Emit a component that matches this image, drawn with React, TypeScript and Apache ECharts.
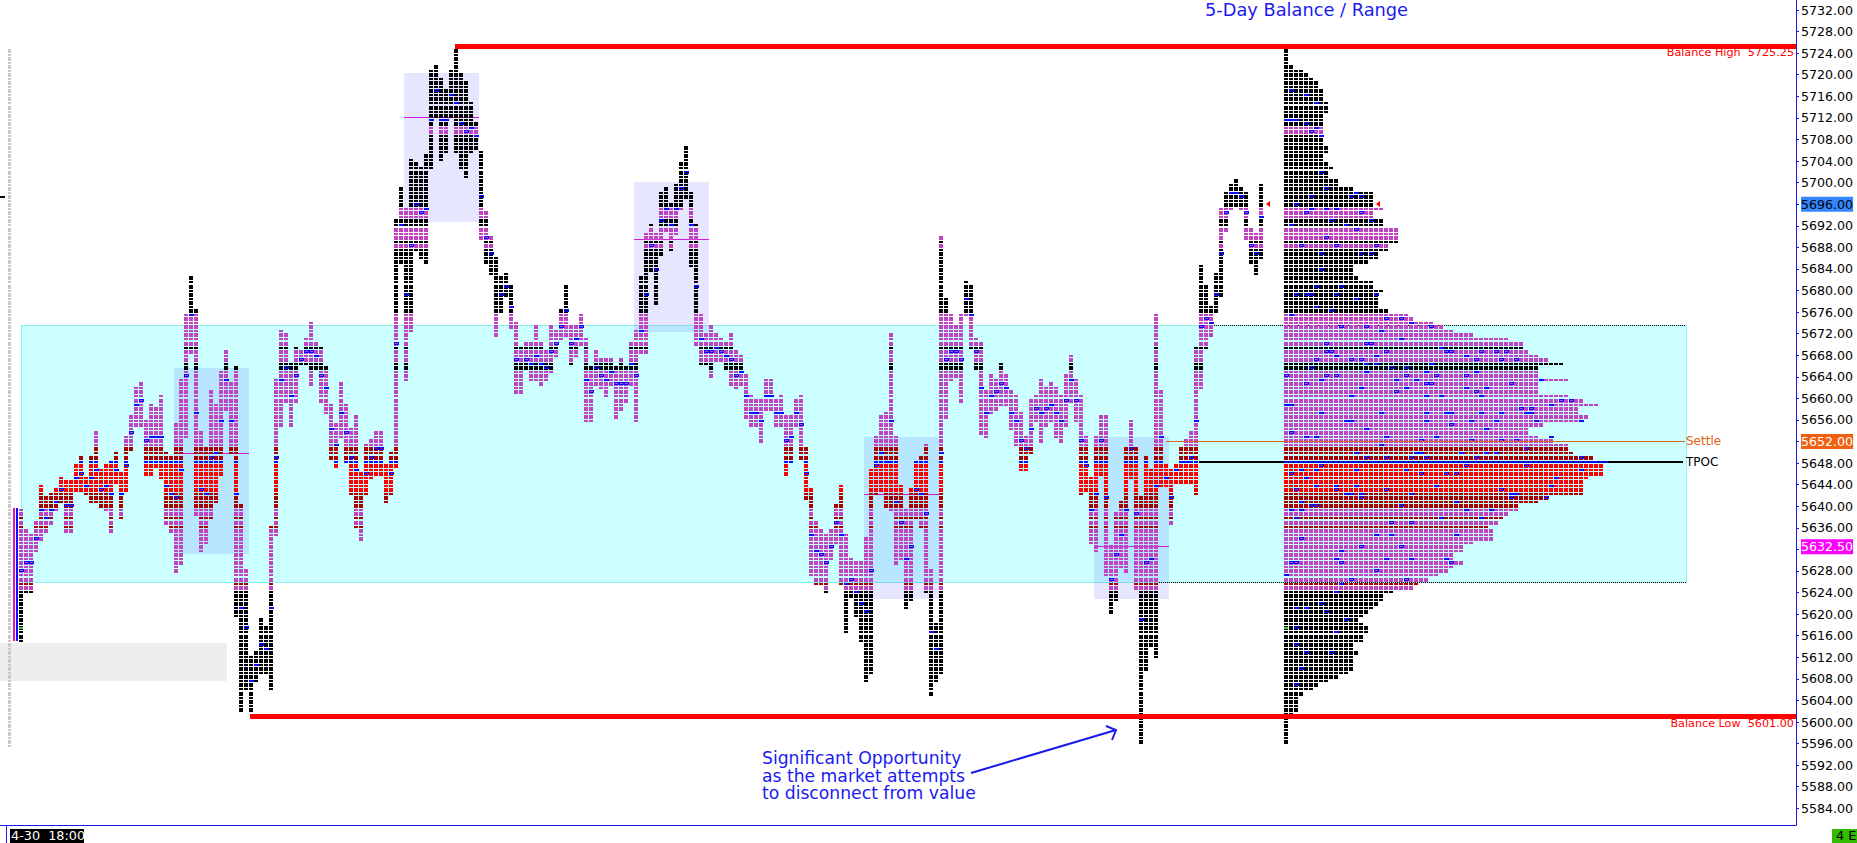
import React, { useEffect, useRef } from "react";
import * as echarts from "echarts";

// ---------- Price axis ----------
const AXIS_MIN = 5580.906;
const AXIS_MAX = 5733.854;
const tickValues = [5584,5588,5592,5596,5600,5604,5608,5612,5616,5620,5624,5628,5632,5636,5640,5644,5648,5652,5656,5660,5664,5668,5672,5676,5680,5684,5688,5692,5696,5700,5704,5708,5712,5716,5720,5724,5728,5732];
const labelValues = [5584,5588,5592,5596,5600,5604,5608,5612,5616,5620,5624,5628,5632.5,5636,5640,5644,5648,5652,5656,5660,5664,5668,5672,5676,5680,5684,5688,5692,5696,5700,5704,5708,5712,5716,5720,5724,5728,5732];

// ---------- Market profile columns (index = period column) ----------
const tpoHigh = [
5639.75,5635.5,5635,5637,5644.25,5642.25,5642.75,5643.25,5645.75,5645,
5645,5648.25,5649.25,5645.5,5649.25,5654,5647,5648.25,5649,5650.5,
5646.5,5653,5657,5662.25,5662.75,5656.25,5659.5,5658.5,5660.5,5650.5,
5649.25,5655.25,5663.75,5675.75,5682.75,5676.25,5654.25,5651.25,5661.25,5659,
5665.5,5668.75,5662.75,5666.25,5640,5628.5,5612.75,5613.5,5619.25,5617.5,
5636.25,5663.75,5672.75,5671.75,5666.5,5669.75,5669.25,5671.25,5674.25,5670.75,
5669.75,5665.75,5659.25,5655.5,5662.75,5659,5654.5,5657.25,5646.5,5652,
5652.75,5654,5654,5648.25,5650.5,5693.25,5699.25,5695.25,5704.25,5703.75,
5703,5705.25,5720.75,5721.75,5719.25,5717.25,5720.75,5725.25,5720,5718.75,
5714.75,5711.25,5705.75,5695,5690,5686.75,5682.25,5683.25,5681.25,5674.25,
5670,5670.5,5670.5,5673.5,5670.75,5669.25,5673.75,5672.75,5676.75,5680.75,
5673.75,5673.75,5675.75,5671.5,5666.25,5668.75,5667.75,5667.25,5667.75,5666.25,
5667.75,5666.25,5670.5,5672.75,5682.25,5691.25,5692.75,5690.75,5698.75,5699.25,
5696.25,5700.25,5703.5,5707,5698.5,5692.75,5675.75,5671.75,5673.75,5672,
5671.5,5670.5,5672,5669,5668.25,5664.75,5660.75,5659.75,5659.75,5663.5,
5663.75,5659.75,5660.5,5657,5657,5659.75,5660.75,5651.25,5643.25,5637.5,
5635.75,5634.75,5635.5,5640.75,5644,5634.75,5630.25,5630,5630,5634.25,
5647.25,5653.5,5657,5657.75,5672.25,5653,5644.5,5639.25,5643.25,5649,
5649.25,5651.75,5628.25,5618.25,5690.25,5678.5,5675.5,5673.5,5675.75,5682,
5680.75,5671.5,5670.5,5661.25,5664.25,5663.75,5667,5664.25,5661.25,5660.5,
5657.75,5653.5,5659.75,5660.75,5663.5,5662,5663,5662,5661,5664.25,
5668.25,5663.5,5660.75,5653,5645.5,5653,5657,5657,5632.75,5638.5,
5641.25,5651.25,5656.25,5651.25,5642.25,5649.25,5647,5675.5,5661.25,5647.75,
5647,5648.25,5651.25,5652.25,5654.25,5670,5685,5681.25,5677.25,5683.5,
5695.25,5698.5,5700.25,5700.75,5699.25,5698.5,5692,5691.25,5700.25,
];
const tpoLow = [
5615,5623.5,5624,5631,5633.75,5635.25,5636.5,5638.75,5640,5635,
5635,5642.5,5642.5,5642,5640.5,5640.5,5639.5,5639,5635,5644,
5637.5,5642.5,5650.5,5654.5,5655,5645.5,5645.5,5647.25,5645,5636.5,
5635,5627.5,5629,5652.5,5668,5638,5631.5,5632.5,5637.25,5640.25,
5645.5,5657.5,5649.5,5619,5602.25,5606,5601.75,5607,5608.5,5608.5,
5605.75,5634,5654.5,5659,5655,5659.5,5666,5666,5662.5,5665,
5659,5657,5649,5647,5652.5,5648,5642,5635.5,5633.5,5641.75,
5645,5646,5646,5640,5641.5,5647,5685,5663,5672,5687.5,
5685.5,5685,5702,5712.25,5704,5705.5,5712.25,5705,5702,5700.5,
5705,5706,5689.5,5685,5683,5671,5676,5678.5,5673,5660.5,
5660.5,5665.25,5663,5663,5662.5,5663,5664.5,5667.5,5670.5,5671.5,
5666,5667.5,5670,5655.5,5655.5,5662.5,5661.5,5660,5662.5,5656.5,
5657.5,5659,5662.5,5655.5,5668,5668,5683.25,5677.5,5686.75,5690.75,
5687.5,5690,5694.75,5696.75,5684.5,5670,5666.25,5666,5664,5667,
5667,5665.5,5662,5661.5,5662,5656.5,5654.5,5654.5,5652,5657.75,
5657.5,5655,5655,5646,5648,5654.5,5649,5641,5626.5,5625.5,
5625,5624,5629.5,5633,5625.5,5616.5,5623,5619.5,5614.5,5607,
5608.5,5641.75,5642.75,5639.5,5639,5629,5629.5,5620.5,5622,5637.25,
5636,5624,5605,5607.5,5608.5,5656.5,5663,5663.5,5659,5675,
5669,5665.5,5653,5652.5,5657,5658,5658.5,5658.5,5654,5651,
5646.5,5646.5,5649.5,5655.5,5651.5,5654.5,5655.5,5652.5,5651.5,5655,
5659,5655.5,5642,5642.5,5633,5631.5,5646,5626.5,5620.25,5622.5,
5628,5627.5,5645.25,5624.5,5596,5609.5,5613.75,5611.75,5643.5,5643.25,
5636.5,5644.5,5644.5,5644.5,5644,5641.5,5661.5,5669,5671,5676,
5679,5690.75,5695,5695.5,5694.5,5689.25,5685,5683,5685.5,
];
const tpoOpen = [
5627.75,5629.5,5629.5,5634.25,5639.25,5638,5639.5,5641,5643,5640.25,
5640.25,5645.5,5646,5643.75,5645.25,5647,5643,5643.75,5642,5647,
5642,5647.5,5653.75,5658.75,5659.25,5652,5652.5,5653,5652.5,5643.75,
5642,5641.75,5646.75,5664,5675.5,5657,5643,5642,5649.25,5649.5,
5655.5,5663.25,5656,5642.5,5621,5617.25,5607.25,5610.25,5614,5613.25,
5621,5649.25,5663.5,5665.5,5660.5,5664.5,5667.5,5668.5,5668.5,5668.25,
5664.5,5661.75,5654,5651.25,5657.5,5653.25,5648.75,5646.5,null,5646,
5648.75,5650.25,5650.25,null,5646,5670.25,5692,5679,5688,5695.5,
5694,5695,5711.75,5717,5711.75,5711.75,5716.5,5715,5711,5709.5,
5710,5708.5,5697.5,5690,5686.75,null,5679,5681,5677,5667.5,
null,5667.5,5666.5,5668.25,5666.5,5666,5669,5670.25,5673.5,5676,
5670.25,5670.75,5673.25,5663.5,5661,5665.5,5664.5,5663.5,5665.25,5662.25,
5662.5,5662.5,5666.5,5664,5672.5,5679.5,5688,5684,5693,5695,
5692,5695,5699,5701.5,5691.75,5681,5671,5668.75,5669,5669.5,
5669,5668.25,5667,5664.5,5665.25,5660.5,5657.5,5657,5656,5660.5,
5660.5,5657.5,5657.5,5651.75,5652.5,5657,5655.25,5646,5635,5631.5,
5630.75,5629.5,5632.75,5637.25,5634.5,5625.5,5626.75,5624.5,5622,5620.75,
5628,5647.5,5649.5,5648.5,5655.75,5641,5637.25,5630.25,5632.75,5643.25,
5642.5,5638.25,5616.75,5613.25,5649.5,5667.5,5669,5668.5,5667.5,5678.5,
5675.25,5668.5,5661.75,5657,5660.5,5661,5662.5,5661.75,5657.5,5655.75,
5652,5650.25,5654.5,5658,5657.5,5658,5659,5657,5656,5659.5,
5663.5,5659.5,5651.75,5647.75,5639,5642.25,5651.75,5641.75,5626.75,5630.75,
5634.75,5639.5,5650.75,5638.25,5619,5629.5,5630.25,5643.75,5652.5,5645.5,
5641.75,5646.75,5648,5648.5,5649.25,5655.5,5673.25,5675,5674,5679.5,
5687,5694.5,5697.75,5698.25,5697.25,5694,5688.5,5687,5693.25,
];

// ---------- Composite 5-day profile: [top price of band, number of columns] ----------
const profileBands: number[][] = [
[5725.25,1],[5721.75,2],[5721,4],[5720.25,5],[5719.5,6],[5719,7],[5717.5,8],[5715,9],[5712.5,8],[5707,9],
[5705,8],[5703.5,9],[5703,10],[5702,9],[5700.5,11],[5699.25,14],[5698.75,15],[5698.25,18],[5695.25,20],[5694.5,18],
[5693,20],[5691.5,23],[5689,21],[5687.25,19],[5685.75,17],[5685.25,15],[5684.75,14],[5682.5,15],[5681.5,18],[5680.25,20],
[5679.25,19],[5676.5,21],[5675.5,25],[5674.75,26],[5674,30],[5673.5,32],[5672.75,34],[5672,38],[5671.5,41],[5671,45],
[5670.25,48],[5669.25,49],[5668.25,51],[5667.75,53],[5666.5,56],[5665.75,51],[5664,52],[5663.5,57],[5663,51],[5660.75,57],
[5660.25,60],[5659.5,63],[5658.75,59],[5657,61],[5656,60],[5655.25,52],[5654.5,49],[5653.5,51],[5652.75,56],[5652.25,54],
[5651.5,57],[5650.5,58],[5649.75,62],[5649,65],[5648,64],[5645.5,61],[5644.75,60],[5642.25,53],[5641.25,51],[5640.5,49],
[5640,47],[5639,45],[5638.25,44],[5637.5,43],[5636.5,41],[5635.75,42],[5633.75,38],[5632.75,36],[5631,34],[5630,36],
[5629.25,34],[5628.5,33],[5627.5,31],[5626.75,29],[5625.75,27],[5625,26],[5624.25,22],[5623.5,20],[5622.5,19],[5621.75,18],
[5620.75,17],[5620,16],[5619,15],[5618.25,16],[5617.5,17],[5616.5,16],[5615,14],[5613.25,15],[5612.25,14],[5609.75,13],
[5609,11],[5608,9],[5607.25,7],[5606.5,6],[5605.5,4],[5604.75,3],[5602,2],[5600.75,1],
];
const PROFILE_LOW = 5596;

// ---------- Composite profile open marks: [profile column, price] ----------
const profileMarks: number[][] = [
[1,5717],[4,5716.5],[6,5715],[0,5711.75],[1,5711.75],[2,5711.75],[4,5711],[6,5710],[5,5709.5],[7,5708.5],[7,5701.5],[8,5699],[14,5698],[13,5697.5],[5,5697.5],[15,5697],
[2,5695.5],[5,5695],[8,5695],[10,5695],[15,5694.5],[15,5694],[4,5694],[17,5693],[9,5693],[1,5692],[12,5692],[14,5691.5],[8,5690],[3,5688],[10,5688],[18,5688.5],
[15,5687],[17,5687],[7,5686.5],[7,5684],[6,5681],[11,5681],[10,5679.5],[18,5679.5],[2,5679],[4,5679],[5,5679],[14,5678.5],[6,5677],[9,5676],[1,5675.5],[20,5675],
[23,5675],[25,5674],[11,5673.5],[16,5673],[29,5673],[19,5672.5],[23,5671],[8,5670],[16,5670],[17,5670.5],[31,5669.5],[20,5669],[33,5669],[39,5669],[32,5668.5],[42,5668.5],
[44,5668.5],[8,5668.5],[9,5668.5],[10,5668],[18,5668],[36,5668],[6,5667.5],[13,5667.5],[15,5667.5],[43,5667.5],[46,5667.5],[38,5667],[16,5666.5],[18,5666.5],[29,5666.5],[21,5666],
[5,5665.75],[24,5665.75],[16,5665.25],[28,5665.25],[38,5665.25],[8,5664.5],[10,5664.5],[24,5664.5],[36,5664.5],[0,5664],[30,5664],[7,5663.5],[22,5663.5],[26,5663.5],[51,5663.5],[4,5663],
[28,5662.5],[29,5662.5],[45,5662.5],[24,5662],[15,5661.5],[36,5661.5],[40,5661.5],[22,5661],[38,5661],[13,5660.5],[28,5660.5],[31,5660.5],[39,5660.5],[55,5659.5],[57,5659.5],[1,5659],
[53,5659],[0,5658.5],[47,5658],[49,5658],[48,5657.5],[19,5657.5],[28,5657.5],[32,5657.5],[33,5657.5],[43,5657.5],[39,5657],[49,5657],[7,5657],[50,5656],[13,5656],[28,5656],
[59,5655.5],[12,5655.5],[37,5655.5],[42,5655.5],[33,5655],[40,5654.5],[16,5654],[1,5653.75],[4,5653],[20,5653],[4,5652.5],[6,5652.5],[30,5652.5],[53,5652.5],[37,5652],[27,5651.75],
[43,5651.75],[46,5651.75],[19,5651],[48,5650.75],[26,5650],[27,5650],[42,5650],[14,5649.5],[35,5649.5],[40,5649.5],[16,5649],[20,5649],[25,5648.75],[28,5648.75],[38,5648.75],[59,5648.75],
[61,5648],[36,5647.5],[48,5647.5],[7,5647.5],[3,5647],[6,5647],[14,5646.5],[24,5646.5],[59,5646.5],[1,5646],[27,5646],[32,5646],[34,5646],[54,5645.5],[4,5645],[30,5644],
[6,5643.5],[10,5643.5],[53,5643.5],[14,5643.5],[10,5643],[2,5643],[20,5643],[43,5643],[25,5642.5],[45,5642.5],[13,5642],[12,5642],[15,5642],[46,5642],[15,5641.5],[45,5641.5],
[52,5641.5],[3,5641],[34,5641],[23,5640.25],[5,5640.25],[6,5640.25],[3,5639.5],[41,5639.5],[1,5639],[36,5639],[2,5638],[31,5638],[39,5638],[21,5637.25],[25,5637.25],[18,5635],
[21,5634.5],[34,5634.5],[3,5634],[15,5632.5],[23,5632.5],[11,5631.5],[10,5630.5],[25,5630.5],[20,5630],[32,5630],[1,5629.5],[2,5629.5],[11,5629.5],[33,5629.5],[18,5628],[0,5627.5],
[13,5626.5],[24,5626.5],[11,5625.5],[10,5624.5],[7,5622],[2,5621],[4,5621],[8,5620.5],[12,5619],[2,5617],[10,5616.5],[2,5614],[4,5613],[9,5613],[3,5610],[2,5607],
];

// ---------- Price bands that set a row's colour ----------
const bandTops = [5726,5710.35,5708.9,5697.25,5696.85,5695.3,5693,5691.5,5689.1,5688.5,5688,5687.5,5687,5675.75,5673.8,5673.2,5670,5669,5667.1,5665.55,5650.85,5648.45,5648.1,5647.7,5642.6,5639.9,5637.9,5637.1,5636.55,5636.05,5626.2,5625,5624.3];
const bandKinds = ["K","M","K","M","K","M","K","M","K","M","K","M","K","M","K","M","K","M","K","M","D","B","D","R","D","M","D","M","D","M","D","M","K"];
const kindColor: Record<string, string> = { K: "#000000", M: "#c043c0", D: "#aa0000", R: "#ff0000", B: "#0c0cff" };

// ---------- Regions and levels ----------
const VALUE_HIGH = 5673.6;
const VALUE_LOW = 5626;
const BALANCE_HIGH = 5725.25;
const BALANCE_LOW = 5601;
const SETTLE = 5652;
const TPOC = 5648.25;
const dayBoxes: number[][] = [
  [31, 46, 5665.6, 5631.15, 5649.8],
  [77, 92, 5720.3, 5692.7, 5712.1],
  [123, 138, 5700.1, 5672.35, 5689.5],
  [169, 184, 5652.9, 5622.8, 5642.2],
  [215, 230, 5652.9, 5622.8, 5632.6],
];
const shadedZone = [5614.65, 5607.6];
const currentPriceMarkers: number[][] = [[249.4, 5696], [271.4, 5696]];
const lowTickMarkers: number[][] = [[0, 5617.7], [253, 5617.7]];
const openingStrip = [5639.75, 5615];
const historyStrip = [5725, 5595];

const X_MIN = -3.8;
const X_MAX = 355.4;
const PROFILE_FIRST_COL = 253;
const BLUE = "#0c0cff";

// Row layout of the bitmap ladder: a thin row then a thick row repeated
const rowTopThin = 5705.82;
const rowTopThick = 5705.24;
const rowPeriod = 1.509;
type Row = { p: number; h: number; mid: number };
const ROWS: Row[] = [];
for (let n = -16; n < 78; n++) {
  ROWS.push({ p: rowTopThin - n * rowPeriod, h: 2, mid: rowTopThin - n * rowPeriod - 0.18 });
  ROWS.push({ p: rowTopThick - n * rowPeriod, h: 4, mid: rowTopThick - n * rowPeriod - 0.37 });
}

function colorAt(p: number) {
  let c = "K";
  for (let i = 0; i < bandTops.length; i++) {
    if (p <= bandTops[i]) c = bandKinds[i];
    else break;
  }
  return kindColor[c];
}
function nearestRow(p: number): Row {
  let best = ROWS[0];
  let d = 1e9;
  for (const r of ROWS) {
    const dd = Math.abs(r.mid - p);
    if (dd < d) {
      d = dd;
      best = r;
    }
  }
  return best;
}

const Cells = (echarts.graphic as any).extendShape({
  type: "cells",
  shape: { rects: [] },
  buildPath(ctx: any, shape: any) {
    for (const r of shape.rects) ctx.rect(r[0], r[1], r[2], r[3]);
  },
});
echarts.graphic.registerShape("cells", Cells);

function bucketsToChildren(b: Record<string, number[][]>) {
  return Object.keys(b).map((fill) => ({
    type: "cells",
    shape: { rects: b[fill] },
    style: { fill },
    silent: true,
  }));
}

function markChildren(x: number, p: number, api: any) {
  const r = nearestRow(p);
  const y = Math.round(api.coord([0, r.p])[1]);
  if (r.h >= 4) {
    return [
      { type: "rect", shape: { x, y: y, width: 5, height: 3 }, style: { fill: BLUE }, silent: true },
      { type: "rect", shape: { x: x + 1, y: y + 1, width: 3, height: 1 }, style: { fill: colorAt(r.mid) }, silent: true },
    ];
  }
  return [{ type: "rect", shape: { x, y, width: 5, height: 2 }, style: { fill: BLUE }, silent: true }];
}

const columnData = tpoHigh.map((h, k) => [k, tpoLow[k], h, tpoOpen[k] === null ? NaN : (tpoOpen[k] as number)]);
const profileData = profileBands.map((b, i) => [b[0], i + 1 < profileBands.length ? profileBands[i + 1][0] : PROFILE_LOW, b[1]]);

function renderColumn(_: any, api: any) {
  const k = api.value(0);
  const low = api.value(1);
  const high = api.value(2);
  const mark = api.value(3);
  const x = Math.round(api.coord([k, low])[0]);
  const b: Record<string, number[][]> = {};
  for (const r of ROWS) {
    if (r.mid > high || r.mid < low) continue;
    const y = Math.round(api.coord([k, r.p])[1]);
    const c = colorAt(r.mid);
    (b[c] = b[c] || []).push([x, y, 4, r.h]);
  }
  const children: any[] = bucketsToChildren(b);
  if (!isNaN(mark)) children.push(...markChildren(x, mark, api));
  return { type: "group", children };
}

function renderProfileBand(_: any, api: any) {
  const top = api.value(0);
  const bottom = api.value(1);
  const n = api.value(2);
  const b: Record<string, number[][]> = {};
  const x0 = Math.round(api.coord([PROFILE_FIRST_COL, top])[0]);
  for (const r of ROWS) {
    if (r.mid > top || r.mid <= bottom) continue;
    const y = Math.round(api.coord([0, r.p])[1]);
    const c = colorAt(r.mid);
    const list = (b[c] = b[c] || []);
    for (let i = 0; i < n; i++) list.push([x0 + 5 * i, y, 4, r.h]);
  }
  return { type: "group", children: bucketsToChildren(b) };
}

function renderProfileMark(_: any, api: any) {
  const col = api.value(0);
  const p = api.value(1);
  const x = Math.round(api.coord([PROFILE_FIRST_COL + col, p])[0]);
  return { type: "group", children: markChildren(x, p, api) };
}

function pxRect(api: any, k0: number, k1: number, hi: number, lo: number) {
  const a = api.coord([k0, hi]);
  const b = api.coord([k1, lo]);
  const x = Math.round(a[0]);
  const y = Math.round(a[1]);
  return { x, y, width: Math.round(b[0]) - x, height: Math.round(b[1]) - y };
}

function custom(name: string, data: any[], renderItem: any, z: number, encode: any = { x: 0, y: 2 }) {
  return {
    type: "custom",
    name,
    coordinateSystem: "cartesian2d",
    data,
    renderItem,
    z,
    silent: true,
    clip: false,
    animation: false,
    encode,
  };
}

function horizontal(name: string, data: number[][], thickness: number, color: string, z: number) {
  return custom(
    name,
    data,
    (_: any, api: any) => {
      const a = api.coord([api.value(0), api.value(2)]);
      const b = api.coord([api.value(1), api.value(2)]);
      return {
        type: "rect",
        shape: { x: Math.round(a[0]), y: Math.round(a[1] - thickness / 2), width: Math.round(b[0] - a[0]), height: thickness },
        style: { fill: color },
        silent: true,
      };
    },
    z
  );
}

function dotted(name: string, data: number[][], z: number) {
  return custom(
    name,
    data,
    (_: any, api: any) => {
      const a = api.coord([api.value(0), api.value(2)]);
      const b = api.coord([api.value(1), api.value(2)]);
      const y = Math.round(a[1]) + 0.5;
      return {
        type: "line",
        shape: { x1: Math.round(a[0]), y1: y, x2: Math.round(b[0]), y2: y },
        style: { stroke: "#000000", lineWidth: 1, lineDash: [1, 1] },
        silent: true,
      };
    },
    z
  );
}

function buildOption(): any {
  const series: any[] = [
    custom(
      "Value area",
      [[0.4, 333.4, VALUE_HIGH, VALUE_LOW]],
      (_: any, api: any) => {
        const s = pxRect(api, api.value(0), api.value(1), api.value(2), api.value(3));
        return {
          type: "rect",
          shape: { x: s.x + 0.5, y: s.y + 0.5, width: s.width, height: s.height },
          style: { fill: "#ccffff", stroke: "#8ff2ec", lineWidth: 1 },
          silent: true,
        };
      },
      1
    ),
    custom(
      "Shaded zone",
      [[X_MIN, 41.6, shadedZone[0], shadedZone[1]]],
      (_: any, api: any) => ({
        type: "rect",
        shape: pxRect(api, api.value(0), api.value(1), api.value(2), api.value(3)),
        style: { fill: "#eeeeee" },
        silent: true,
      }),
      1
    ),
    custom(
      "Day value areas",
      dayBoxes,
      (_: any, api: any) => ({
        type: "rect",
        shape: pxRect(api, api.value(0), api.value(1), api.value(2), api.value(3)),
        style: { fill: "rgba(47,47,255,0.12)" },
        silent: true,
      }),
      2
    ),
    custom(
      "Day POC",
      dayBoxes,
      (_: any, api: any) => {
        const s = pxRect(api, api.value(0), api.value(1), api.value(4), api.value(4));
        return { type: "rect", shape: { x: s.x, y: s.y, width: s.width, height: 1 }, style: { fill: "#d916e8" }, silent: true };
      },
      3,
      { x: 0, y: 4 }
    ),
    horizontal("TPOC", [[236, 332.8, TPOC]], 2, "#000000", 3),
    dotted("Value edges", [[239, 333.4, VALUE_HIGH], [228, 333.4, VALUE_LOW]], 3),
    custom(
      "History strip",
      [[-2.2, historyStrip[1], historyStrip[0]]],
      (_: any, api: any) => {
        const k = api.value(0);
        const x = Math.round(api.coord([k, 0])[0]);
        const rects: number[][] = [];
        for (const r of ROWS) {
          if (r.mid > api.value(2) || r.mid < api.value(1)) continue;
          rects.push([x, Math.round(api.coord([k, r.p])[1]), 3, r.h]);
        }
        return { type: "cells", shape: { rects }, style: { fill: "#c9c9c9" }, silent: true };
      },
      4
    ),
    custom(
      "Opening strips",
      [[-1.2, -0.8, openingStrip[0], openingStrip[1]], [-0.6, -0.2, openingStrip[0], openingStrip[1]]],
      (p: any, api: any) => ({
        type: "rect",
        shape: pxRect(api, api.value(0), api.value(1), api.value(2), api.value(3)),
        style: { fill: p.dataIndex === 0 ? "#e010c0" : BLUE },
        silent: true,
      }),
      4
    ),
    custom("TPO columns", columnData, renderColumn, 5, { x: 0, y: 2 }),
    custom("Composite profile", profileData, renderProfileBand, 5, { x: 2, y: 0 }),
    custom("Composite marks", profileMarks, renderProfileMark, 6, { x: 0, y: 1 }),
    horizontal("Settle", [[229.4, 333.2, SETTLE]], 1, "#d8681e", 7),
    horizontal("Balance High", [[87.2, X_MAX, BALANCE_HIGH]], 5, "#ff0000", 8),
    horizontal("Balance Low", [[46.2, X_MAX, BALANCE_LOW]], 5, "#ff0000", 8),
    custom(
      "Current price",
      currentPriceMarkers,
      (_: any, api: any) => {
        const c = api.coord([api.value(0), api.value(1)]);
        const x = Math.round(c[0]);
        const y = Math.round(c[1]);
        return {
          type: "polygon",
          shape: { points: [[x + 4, y - 3], [x, y], [x + 4, y + 3]] },
          style: { fill: "#ff0000" },
          silent: true,
        };
      },
      8,
      { x: 0, y: 1 }
    ),
    custom(
      "Low tick",
      lowTickMarkers,
      (_: any, api: any) => {
        const c = api.coord([api.value(0), api.value(1)]);
        return {
          type: "rect",
          shape: { x: Math.round(c[0]), y: Math.round(c[1]), width: 4, height: 2 },
          style: { fill: "#33cc33" },
          silent: true,
        };
      },
      8,
      { x: 0, y: 1 }
    ),
  ];

  const sans = "DejaVu Sans";
  const graphic: any[] = [
    { type: "text", x: 1205, y: 0, silent: true, z: 20, style: { text: "5-Day Balance / Range", fill: "#1a1af0", font: `17.8px "${sans}"` } },
    { type: "text", x: 1794, y: 47, silent: true, z: 20, style: { text: "Balance High  5725.25", fill: "#ff0000", font: `11.2px "${sans}"`, align: "right" } },
    { type: "text", x: 1794, y: 718, silent: true, z: 20, style: { text: "Balance Low  5601.00", fill: "#ff0000", font: `11.2px "${sans}"`, align: "right" } },
    { type: "text", x: 1686, y: 435, silent: true, z: 20, style: { text: "Settle", fill: "#e8600f", font: `12px "${sans}"` } },
    { type: "text", x: 1686, y: 456, silent: true, z: 20, style: { text: "TPOC", fill: "#000000", font: `12px "${sans}"` } },
    { type: "text", x: 762, y: 749, silent: true, z: 20, style: { text: "Significant Opportunity", fill: "#1a1af0", font: `17.2px "${sans}"` } },
    { type: "text", x: 762, y: 767, silent: true, z: 20, style: { text: "as the market attempts", fill: "#1a1af0", font: `17.2px "${sans}"` } },
    { type: "text", x: 762, y: 784, silent: true, z: 20, style: { text: "to disconnect from value", fill: "#1a1af0", font: `17.2px "${sans}"` } },
    { type: "polyline", silent: true, z: 20, shape: { points: [[971, 773], [1116, 730]] }, style: { stroke: "#1a1af0", lineWidth: 2, fill: "none" } },
    { type: "polyline", silent: true, z: 20, shape: { points: [[1106, 726], [1116, 730], [1112, 740]] }, style: { stroke: "#1a1af0", lineWidth: 2, fill: "none" } },
    { type: "rect", silent: true, z: 20, shape: { x: 6, y: 825, width: 1, height: 18 }, style: { fill: "#1a1ae0" } },
    { type: "rect", silent: true, z: 20, shape: { x: 10, y: 829, width: 74, height: 14 }, style: { fill: "#000000" } },
    { type: "text", x: 11, y: 829, silent: true, z: 21, style: { text: "4-30  18:00", fill: "#ffffff", font: `12.8px "${sans}"` } },
    { type: "rect", silent: true, z: 20, shape: { x: 1832, y: 829, width: 25, height: 14 }, style: { fill: "#33bb00" } },
    { type: "text", x: 1836, y: 829, silent: true, z: 21, style: { text: "4 E", fill: "#000000", font: `12.8px "${sans}"` } },
    { type: "rect", silent: true, z: 20, shape: { x: 0, y: 196, width: 5, height: 2 }, style: { fill: "#000000" } },
  ];

  return {
    animation: false,
    backgroundColor: "#ffffff",
    textStyle: { fontFamily: sans },
    grid: { left: 0, right: 61, top: 0, bottom: 18, containLabel: false },
    xAxis: {
      type: "value",
      min: X_MIN,
      max: X_MAX,
      axisLine: { show: true, onZero: false, lineStyle: { color: "#1a1ae0", width: 1 } },
      axisTick: { show: false },
      axisLabel: { show: false },
      splitLine: { show: false },
    },
    yAxis: {
      type: "value",
      position: "right",
      min: AXIS_MIN,
      max: AXIS_MAX,
      axisLine: { show: true, onZero: false, lineStyle: { color: "#1a1ae0", width: 1 } },
      axisTick: { show: true, length: 3, lineStyle: { color: "#1a1ae0" }, customValues: tickValues },
      splitLine: { show: false },
      axisLabel: {
        show: true,
        margin: 5,
        customValues: labelValues,
        color: "#000000",
        fontFamily: sans,
        fontSize: 12.6,
        hideOverlap: false,
        formatter: (v: number) => {
          const s = Number(v).toFixed(2);
          if (v === 5696) return `{cur|${s}}`;
          if (v === SETTLE) return `{settle|${s}}`;
          if (v === 5632.5) return `{poc|${s}}`;
          return s;
        },
        rich: {
          cur: { backgroundColor: "#3388ff", color: "#000000", fontSize: 12.6, fontFamily: sans, padding: [1, 0, 1, 0] },
          settle: { backgroundColor: "#f06010", color: "#ffffff", fontSize: 12.6, fontFamily: sans, padding: [1, 0, 1, 0] },
          poc: { backgroundColor: "#ff00ff", color: "#ffffff", fontSize: 12.6, fontFamily: sans, padding: [1, 0, 1, 0] },
        },
      },
    },
    series,
    graphic,
  };
}

export default function App() {
  const ref = useRef<HTMLDivElement>(null);
  useEffect(() => {
    document.body.style.margin = "0";
    const chart = echarts.init(ref.current!, null, { renderer: "svg" });
    chart.setOption(buildOption());
    return () => chart.dispose();
  }, []);
  return <div ref={ref} style={{ width: 1857, height: 843, position: "absolute", left: 0, top: 0 }} />;
}
